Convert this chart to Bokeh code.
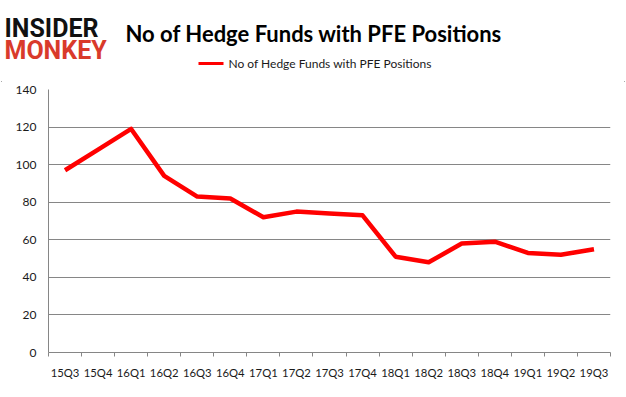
from bokeh.plotting import figure
from bokeh.layouts import column, row
from bokeh.models import FixedTicker
from bokeh.core.properties import value
from bokeh.embed import file_html
from bokeh.resources import INLINE

categories = ["15Q3", "15Q4", "16Q1", "16Q2", "16Q3", "16Q4", "17Q1", "17Q2", "17Q3",
              "17Q4", "18Q1", "18Q2", "18Q3", "18Q4", "19Q1", "19Q2", "19Q3"]
funds = [97, 108, 119, 94, 83, 82, 72, 75, 74, 73, 51, 48, 58, 59, 53, 52, 55]
y_ticks = [0, 20, 40, 60, 80, 100, 120, 140]
series_name = "No of Hedge Funds with PFE Positions"
title_text = "No of Hedge Funds with PFE Positions"

W, HH = 626, 81

# ---- header figure (logo, title, legend) ----
h = figure(width=W, height=HH, output_backend="svg", toolbar_location=None,
           x_range=(0, W), y_range=(0, HH), min_border=0,
           x_axis_location=None, y_axis_location=None)
h.grid.visible = False
h.outline_line_color = None
h.background_fill_color = "white"
h.border_fill_color = "white"

h.text(x=[4], y=[HH - 28], text=["INSIDER"], text_font=value("Roboto"), text_font_style="bold",
       text_font_size="25px", text_color="#111111", text_baseline="alphabetic")
h.text(x=[4], y=[HH - 50], text=["MONKEY"], text_font=value("Roboto"), text_font_style="bold",
       text_font_size="25px", text_color="#d93a2b", text_baseline="alphabetic")
h.text(x=[125], y=[HH - 33], text=[title_text], text_font=value("Lato"), text_font_style="bold",
       text_font_size="22px", text_color="#000000", text_align="left", text_baseline="alphabetic")
h.line(x=[198, 223], y=[HH - 63, HH - 63], line_color="#ff0000", line_width=3)
h.text(x=[228], y=[HH - 63], text=[series_name], text_font=value("Lato"),
       text_font_size="12px", text_color="#1a1a1a", text_baseline="middle")

# ---- main chart ----
n = len(categories)
xs = [i + 0.5 for i in range(n)]

p = figure(width=W, height=397 - HH, output_backend="svg", toolbar_location=None,
           x_range=(0, n), y_range=(0, 140),
           min_border_left=48, min_border_right=16, min_border_top=8, min_border_bottom=45)
p.outline_line_color = None
p.background_fill_color = "white"
p.border_fill_color = "white"

p.line(xs, funds, line_color="#ff0000", line_width=4.5, line_join="round")

xa = p.xaxis[0]
xa.ticker = FixedTicker(ticks=xs, minor_ticks=list(range(n + 1)))
xa.major_label_overrides = {x: c for x, c in zip(xs, categories)}
xa.major_tick_out = 0
xa.major_tick_in = 0
xa.minor_tick_out = 4
xa.minor_tick_in = 0
xa.minor_tick_line_color = "#868686"
xa.axis_line_color = "#868686"
xa.major_label_standoff = 9
xa.major_label_text_font = "Lato"
xa.major_label_text_font_size = "11.3px"
xa.major_label_text_color = "#1a1a1a"

ya = p.yaxis[0]
ya.ticker = FixedTicker(ticks=y_ticks)
ya.major_tick_out = 0
ya.major_tick_in = 0
ya.minor_tick_line_color = None
ya.axis_line_color = "#868686"
ya.major_label_standoff = 12
ya.major_label_text_font = "Lato"
ya.major_label_text_font_size = "12px"
ya.major_label_text_color = "#1a1a1a"

p.xgrid.grid_line_color = None
p.ygrid.grid_line_color = "#868686"
p.ygrid.grid_line_width = 1

layout = column(row(h), p, spacing=0,
                styles={"outline": "1px solid #8c8c8c", "outline-offset": "-2px"})

open("out.html", "w").write(file_html(layout, INLINE))
